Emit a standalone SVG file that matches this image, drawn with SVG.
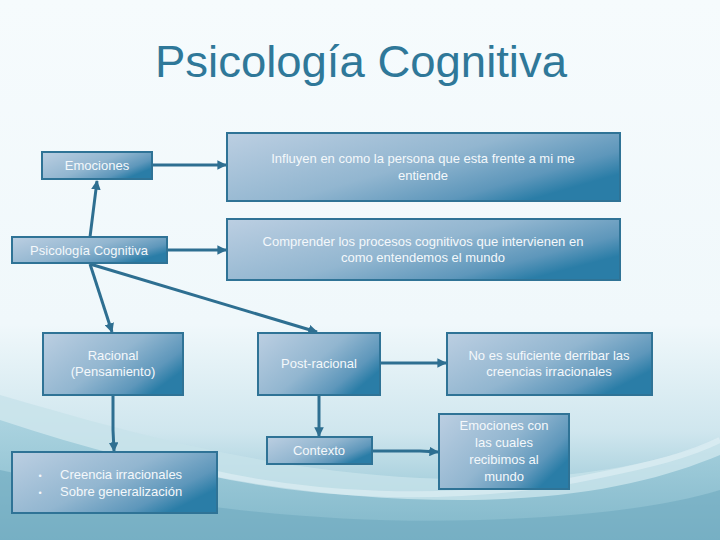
<svg xmlns="http://www.w3.org/2000/svg" width="720" height="540" viewBox="0 0 720 540">
<defs>
<linearGradient id="bg" x1="0" y1="0" x2="0" y2="1">
<stop offset="0" stop-color="#f6fbfd"/>
<stop offset="0.6" stop-color="#f0f8fb"/>
<stop offset="0.8" stop-color="#cfe6ee"/>
<stop offset="1" stop-color="#7fb9cb"/>
</linearGradient>
<linearGradient id="wave1" x1="0" y1="0" x2="0" y2="1">
<stop offset="0" stop-color="#9ccbda" stop-opacity="0.9"/>
<stop offset="1" stop-color="#6aa9bf" stop-opacity="0.95"/>
</linearGradient>
<linearGradient id="box" x1="0" y1="0" x2="1" y2="0.6">
<stop offset="0" stop-color="#bccfe2"/>
<stop offset="0.55" stop-color="#92b6d0"/>
<stop offset="0.85" stop-color="#5e97bb"/>
<stop offset="1" stop-color="#2a7da7"/>
</linearGradient>
<marker id="arr" viewBox="0 0 10 10" refX="9" refY="5" markerWidth="3.2" markerHeight="3.2" orient="auto" markerUnits="strokeWidth">
<path d="M0,0 L10,5 L0,10 z" fill="#2e6f91"/>
</marker>
<style>
.node rect{fill:url(#box);stroke:#2f7396;stroke-width:2}
.node text{font-family:"Liberation Sans",Arial,sans-serif;font-size:13px;fill:#f4f8fb;text-anchor:middle}
.conn line,.conn polyline{stroke:#2e6f91;stroke-width:3;fill:none;marker-end:url(#arr)}
.title{font-family:"Liberation Sans",Arial,sans-serif;font-size:45px;fill:#2f7899;text-anchor:middle}
</style>
</defs>
<rect width="720" height="540" fill="url(#bg)"/>
<path d="M0,395 C120,430 260,470 420,478 C540,484 640,470 720,440 L720,540 L0,540 Z" fill="#c7e2ea" opacity="0.8"/>
<path d="M0,420 C150,470 300,500 460,500 C580,500 660,480 720,455 L720,540 L0,540 Z" fill="url(#wave1)" opacity="0.75"/>
<path d="M0,470 C160,505 320,525 480,520 C600,516 670,505 720,490 L720,540 L0,540 Z" fill="#6faabf" opacity="0.6"/>
<path d="M160,460 C300,500 460,505 600,475 C650,465 690,455 720,440" stroke="#e8f4f8" stroke-width="6" fill="none" opacity="0.5"/>

<text class="title" x="361" y="77" textLength="412" lengthAdjust="spacingAndGlyphs">Psicología Cognitiva</text>

<g class="conn" id="connectors">
<line x1="152" y1="165" x2="226" y2="165"/>
<line x1="167" y1="250" x2="226" y2="250"/>
<line x1="90" y1="237" x2="97" y2="181"/>
<line x1="90" y1="264" x2="112" y2="332"/>
<line x1="90" y1="264" x2="317" y2="332"/>
<polyline points="113,396 113,430 114,451"/>
<line x1="319" y1="396" x2="319" y2="436"/>
<line x1="380" y1="363" x2="446" y2="363"/>
<polyline points="372,451 420,451 438,452"/>
</g>

<g class="node" id="n-emociones">
<rect x="42" y="152" width="110" height="27"/>
<text x="97" y="169.5">Emociones</text>
</g>
<g class="node" id="n-influyen">
<rect x="227" y="133" width="393" height="68"/>
<text x="423" y="163">Influyen en como la persona que esta frente a mi me</text>
<text x="423" y="180">entiende</text>
</g>
<g class="node" id="n-psico">
<rect x="12" y="237" width="155" height="26"/>
<text x="89" y="254.5">Psicología Cognitiva</text>
</g>
<g class="node" id="n-comprender">
<rect x="227" y="219" width="393" height="61"/>
<text x="423" y="246">Comprender los procesos cognitivos que intervienen en</text>
<text x="423" y="262">como entendemos el mundo</text>
</g>
<g class="node" id="n-racional">
<rect x="43" y="333" width="140" height="62"/>
<text x="113" y="360">Racional</text>
<text x="113" y="376">(Pensamiento)</text>
</g>
<g class="node" id="n-postracional">
<rect x="258" y="333" width="122" height="62"/>
<text x="319" y="368">Post-racional</text>
</g>
<g class="node" id="n-noes">
<rect x="447" y="333" width="205" height="62"/>
<text x="549" y="360">No es suficiente derribar las</text>
<text x="549" y="376">creencias irracionales</text>
</g>
<g class="node" id="n-contexto">
<rect x="267" y="437" width="105" height="27"/>
<text x="319" y="455">Contexto</text>
</g>
<g class="node" id="n-emocionescon">
<rect x="439" y="414" width="130" height="75"/>
<text x="504" y="430">Emociones con</text>
<text x="504" y="447">las cuales</text>
<text x="504" y="464">recibimos al</text>
<text x="504" y="481">mundo</text>
</g>
<g class="node" id="n-creencias">
<rect x="12" y="452" width="205" height="61"/>
<text x="40" y="479" style="font-size:9px">•</text>
<text x="40" y="496" style="font-size:9px">•</text>
<text x="60" y="479" style="text-anchor:start">Creencia irracionales</text>
<text x="60" y="496" style="text-anchor:start">Sobre generalización</text>
</g>
</svg>
